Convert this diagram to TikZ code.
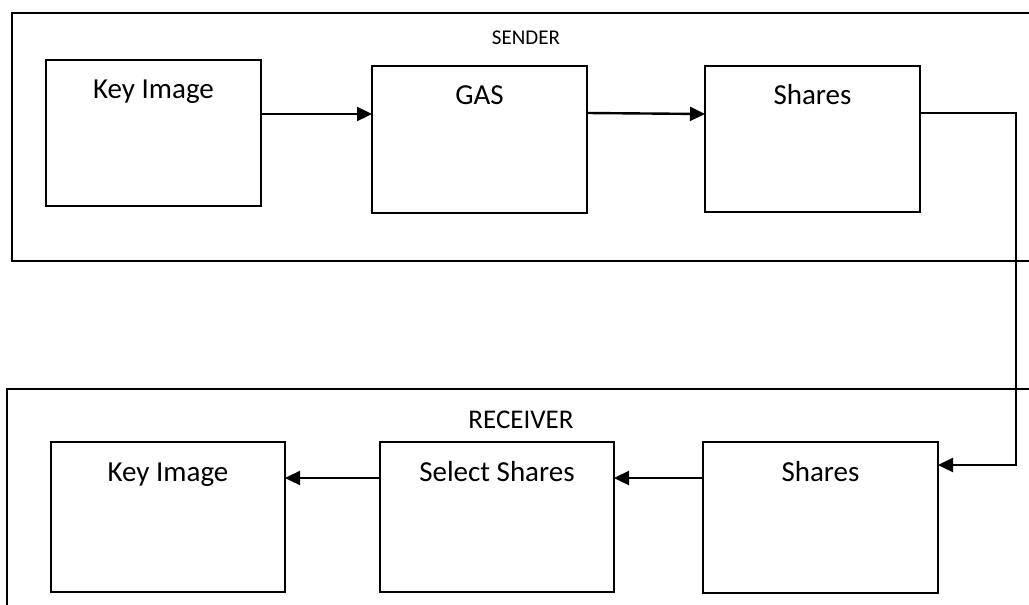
\documentclass[tikz,border=0pt]{standalone}
\usepackage{fontspec}
\setmainfont{Carlito}
\usetikzlibrary{arrows.meta,calc}
\tikzset{
  blk/.style={draw, line width=2.2pt, inner sep=0pt, outer sep=0pt},
  lab/.style={anchor=base, inner sep=0pt, font=\fontsize{29}{32}\selectfont},
  frame/.style={draw, line width=2.2pt},
  arr/.style={line width=2.4pt, -{Triangle[length=15pt,width=14pt]}},
  wire/.style={line width=2.4pt}
}
\begin{document}
\begin{tikzpicture}[x=1pt,y=-1pt]
\useasboundingbox (0,0) rectangle (1029,605);
\clip (0,0) rectangle (1029,605);
% outer frames
\draw[frame] (1045,13) -- (12,13) -- (12,261) -- (1045,261);
\draw[frame] (1045,389) -- (7,389) -- (7,620);
\node[anchor=base, inner sep=0pt, font=\fontsize{21}{24}\selectfont] (sendlab) at (526,44) {SENDER};
\node[anchor=base, inner sep=0pt, font=\fontsize{27}{30}\selectfont] (reclab) at (521,428) {RECEIVER};
% sender boxes
\node[blk, minimum width=215pt, minimum height=146pt] (sk) at (153.5,133) {};
\node[lab] (skl) at ([yshift=-38pt]sk.north) {Key Image};
\node[blk, minimum width=215pt, minimum height=147pt] (gas) at (479.5,139.5) {};
\node[lab] (gasl) at ([yshift=-38pt]gas.north) {GAS};
\node[blk, minimum width=215pt, minimum height=146pt] (ss) at (812.5,139) {};
\node[lab] (ssl) at ([yshift=-38pt]ss.north) {Shares};
% receiver boxes
\node[blk, minimum width=234pt, minimum height=150pt] (rk) at (168,517) {};
\node[lab] (rkl) at ([yshift=-39pt]rk.north) {Key Image};
\node[blk, minimum width=234pt, minimum height=150pt] (rsel) at (497,517) {};
\node[lab] (rsell) at ([yshift=-39pt]rsel.north) {Select Shares};
\node[blk, minimum width=235pt, minimum height=151pt] (rs) at (820.5,517.5) {};
\node[lab] (rsl) at ([yshift=-39pt]rs.north) {Shares};
% connectors
\coordinate (c1) at (0,114);
\coordinate (c2) at (0,113);
\coordinate (c3) at (0,478);
\coordinate (t1) at (1016,113);
\coordinate (t2) at (1016,465);
\draw[arr] (sk.east |- c1) -- (gas.west |- c1);
\draw[arr] (gas.east |- c2) -- (ss.west |- c1);
\draw[wire, line join=miter] (ss.east |- c2) -- (t1) -- (t2);
\draw[arr] ([xshift=1.2pt]t2) -- (rs.east |- t2);
\draw[arr] (rs.west |- c3) -- (rsel.east |- c3);
\draw[arr] (rsel.west |- c3) -- (rk.east |- c3);
\end{tikzpicture}
\end{document}
